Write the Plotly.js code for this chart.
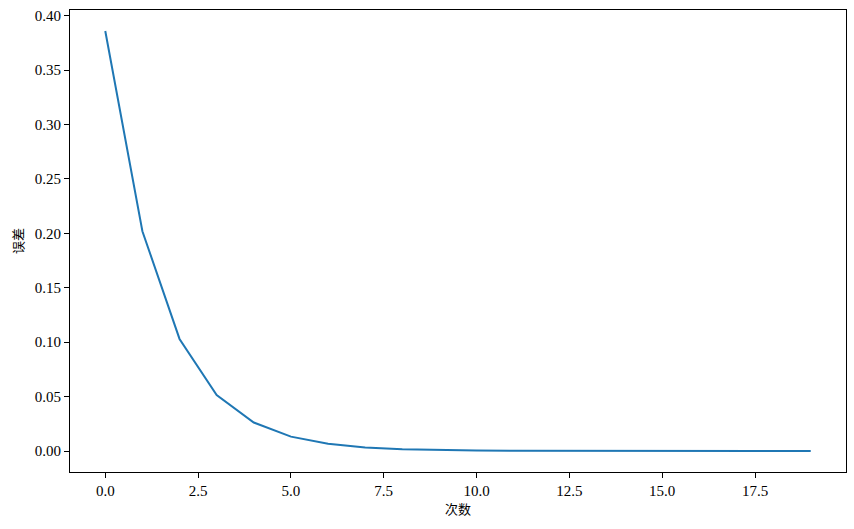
<!DOCTYPE html>
<html>
<head>
<meta charset="utf-8">
<script src="https://cdn.plot.ly/plotly-3.0.1.min.js"></script>
<style>html,body{margin:0;padding:0;background:#fff;}#chart{width:854px;height:529px;}</style>
</head>
<body>
<div id="chart"></div>
<script>
const iterations = [0,1,2,3,4,5,6,7,8,9,10,11,12,13,14,15,16,17,18,19];
const errors = [0.386,0.202,0.103,0.0515,0.0262,0.0132,0.0066,0.0033,0.0017,0.0009,0.00045,0.00023,0.00012,0.00006,0.00003,0.000015,0.000008,0.000004,0.000002,0.000001];
const xLabel = '次数';
const yLabel = '误差';

const tickFont = {family: 'Liberation Serif, DejaVu Serif, serif', size: 15, color: '#000'};
const cjkFont = {family: 'Noto Sans CJK SC, sans-serif', size: 13, color: '#000'};

Plotly.newPlot('chart', [{
  x: iterations,
  y: errors,
  type: 'scatter',
  mode: 'lines',
  line: {color: '#1f77b4', width: 2},
  hoverinfo: 'skip'
}], {
  width: 854, height: 529,
  margin: {l: 70, r: 8, t: 10, b: 57},
  paper_bgcolor: '#fff', plot_bgcolor: '#fff',
  showlegend: false,
  xaxis: {
    range: [-0.95, 19.95],
    tickvals: [0, 2.5, 5, 7.5, 10, 12.5, 15, 17.5],
    ticktext: ['0.0','2.5','5.0','7.5','10.0','12.5','15.0','17.5'],
    ticks: 'outside', ticklen: 5, tickwidth: 1, tickcolor: '#000',
    showline: true, linecolor: '#000', linewidth: 1, mirror: true,
    showgrid: false, zeroline: false,
    tickfont: tickFont,
    title: {text: xLabel, font: cjkFont, standoff: 6}
  },
  yaxis: {
    range: [-0.0193, 0.4053],
    tickvals: [0, 0.05, 0.1, 0.15, 0.2, 0.25, 0.3, 0.35, 0.4],
    ticktext: ['0.00','0.05','0.10','0.15','0.20','0.25','0.30','0.35','0.40'],
    ticks: 'outside', ticklen: 5, tickwidth: 1, tickcolor: '#000',
    showline: true, linecolor: '#000', linewidth: 1, mirror: true,
    showgrid: false, zeroline: false,
    tickfont: tickFont,
    title: {text: yLabel, font: cjkFont, standoff: 8}
  }
}, {displayModeBar: false, staticPlot: true});
</script>
</body>
</html>
